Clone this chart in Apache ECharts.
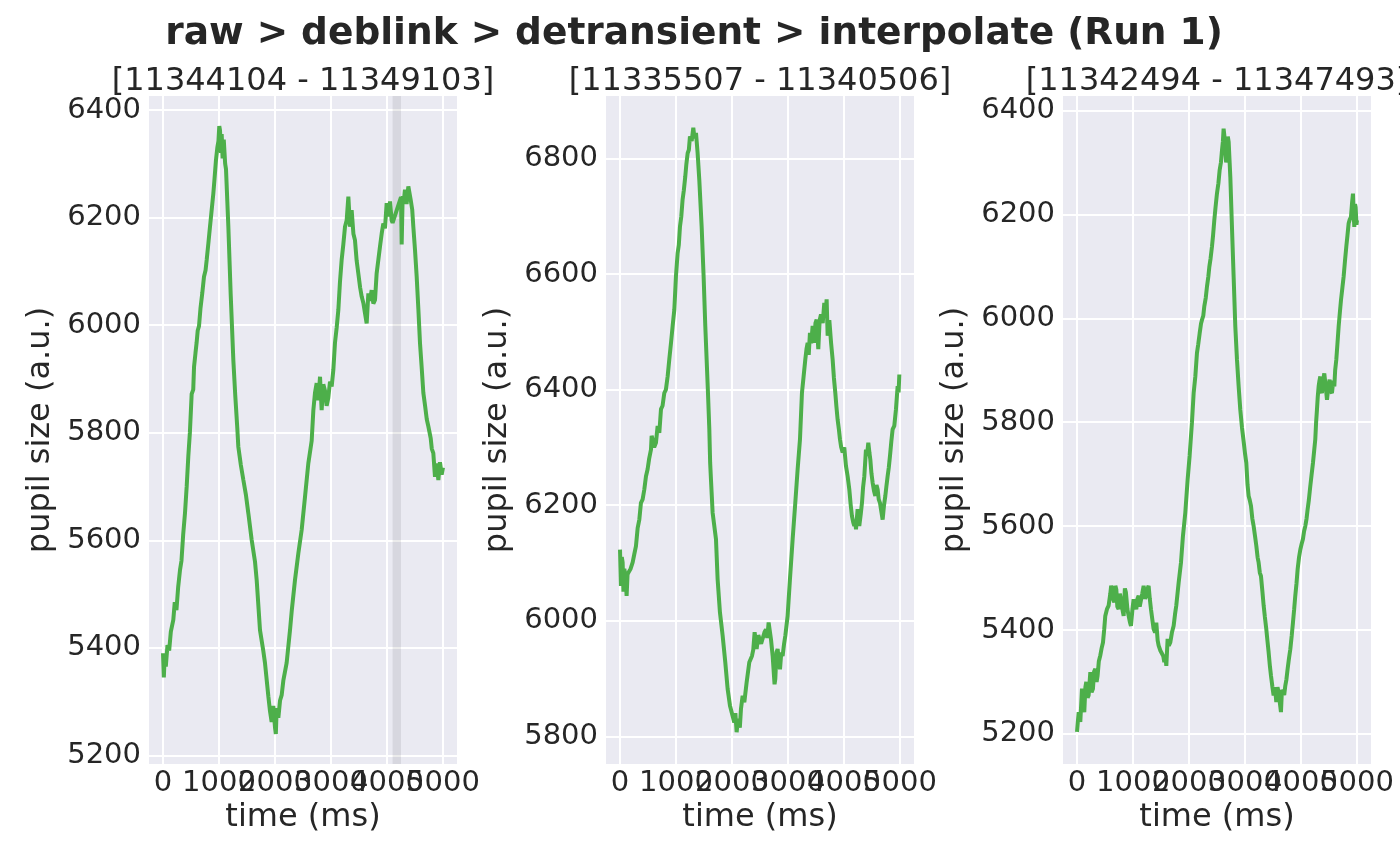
<!DOCTYPE html>
<html>
<head>
<meta charset="utf-8">
<title>pupil traces</title>
<script src="https://cdn.jsdelivr.net/npm/echarts@6/dist/echarts.min.js"></script>
<style>
 html,body{margin:0;padding:0;background:#fff}
 #chart{width:1400px;height:866px}
</style>
</head>
<body>
<div id="chart"></div>
<script>
// ---- data ----
var suptitle = 'raw > deblink > detransient > interpolate (Run 1)';
var panelTitles = ['[11344104 - 11349103]', '[11335507 - 11340506]', '[11342494 - 11347493]'];
var xTicks = [0, 1000, 2000, 3000, 4000, 5000];
var yTicks = [
 [5200, 5400, 5600, 5800, 6000, 6200, 6400],
 [5800, 6000, 6200, 6400, 6600, 6800],
 [5200, 5400, 5600, 5800, 6000, 6200, 6400]
];
var xRange = [-250, 5250];
var yRanges = [[5184, 6426], [5752, 6908], [5142, 6428]];
var gapBand = [4100, 4250];   // interpolated stretch, panel 1

var trace1 = [[0,5390],[15,5345],[30,5385],[50,5365],[80,5405],[110,5395],[140,5430],[184,5452],[210,5485],[240,5470],
 [270,5512],[304,5545],[330,5562],[360,5610],[393,5651],[423,5700],[452,5756],[480,5800],[512,5872],[540,5880],
 [554,5922],[580,5948],[601,5968],[620,5990],[643,5998],[670,6032],[702,6060],[732,6090],[760,6102],[780,6121],
 [810,6152],[839,6183],[870,6215],[899,6245],[920,6272],[946,6307],[970,6330],[990,6342],[1005,6370],[1018,6362],
 [1035,6320],[1048,6355],[1065,6310],[1085,6345],[1110,6300],[1125,6290],[1167,6183],[1208,6059],[1256,5935],[1290,5870],
 [1327,5808],[1345,5774],[1390,5740],[1435,5712],[1480,5685],[1524,5650],[1583,5601],[1643,5560],[1673,5526],[1732,5433],
 [1790,5395],[1821,5372],[1881,5310],[1911,5282],[1940,5262],[1970,5292],[2000,5252],[2015,5240],[2030,5288],[2060,5270],
 [2090,5302],[2119,5312],[2150,5340],[2208,5372],[2268,5433],[2300,5470],[2357,5526],[2417,5576],[2476,5619],[2536,5681],
 [2595,5743],[2655,5785],[2685,5842],[2714,5874],[2744,5892],[2774,5860],[2804,5904],[2833,5842],[2863,5890],[2893,5878],
 [2922,5850],[2952,5865],[2982,5895],[3012,5886],[3042,5917],[3071,5967],[3101,5995],[3131,6028],[3160,6080],[3190,6121],
 [3220,6150],[3250,6183],[3280,6195],[3310,6239],[3339,6183],[3369,6214],[3400,6170],[3428,6158],[3458,6120],[3488,6096],
 [3520,6070],[3548,6053],[3580,6040],[3607,6022],[3637,6003],[3667,6059],[3696,6045],[3726,6065],[3756,6040],[3786,6047],
 [3815,6096],[3845,6121],[3875,6146],[3905,6170],[3934,6189],[3964,6180],[3994,6227],[4024,6202],[4054,6230],[4083,6195],
 [4100,6190],[4250,6238],[4262,6150],[4280,6240],[4300,6230],[4321,6252],[4350,6225],[4381,6258],[4420,6235],[4450,6215],
 [4470,6183],[4500,6140],[4530,6090],[4560,6030],[4589,5967],[4620,5920],[4649,5874],[4680,5850],[4710,5825],[4738,5812],
 [4780,5790],[4800,5770],[4827,5762],[4857,5718],[4887,5743],[4917,5712],[4946,5745],[4976,5722],[5000,5735]];

var trace2 = [[0,6123],[17,6060],[32,6110],[47,6101],[62,6050],[77,6090],[100,6075],[118,6043],[135,6080],[154,6084],
 [190,6090],[226,6101],[255,6115],[285,6129],[315,6160],[345,6175],[374,6204],[404,6210],[434,6227],[464,6250],
 [493,6262],[520,6280],[553,6296],[565,6320],[583,6313],[610,6300],[642,6308],[672,6337],[702,6325],[732,6366],
 [760,6372],[791,6394],[820,6400],[851,6423],[880,6452],[910,6480],[940,6510],[970,6538],[999,6596],[1029,6636],
 [1050,6650],[1071,6682],[1095,6700],[1118,6729],[1140,6745],[1166,6769],[1185,6790],[1208,6809],[1230,6815],[1249,6838],
 [1280,6830],[1309,6853],[1330,6835],[1357,6844],[1386,6809],[1416,6763],[1458,6682],[1493,6596],[1523,6510],[1547,6452],
 [1571,6394],[1595,6331],[1610,6273],[1624,6245],[1654,6187],[1714,6141],[1743,6072],[1785,6014],[1833,5974],[1880,5928],
 [1922,5882],[1964,5853],[2011,5835],[2041,5824],[2060,5840],[2083,5807],[2100,5825],[2118,5830],[2140,5815],[2160,5847],
 [2190,5870],[2220,5859],[2261,5893],[2309,5928],[2357,5939],[2380,5950],[2404,5980],[2440,5951],[2470,5975],[2488,5974],
 [2520,5960],[2547,5962],[2580,5980],[2607,5985],[2630,5970],[2654,5997],[2696,5968],[2726,5939],[2760,5890],[2773,5899],
 [2795,5945],[2815,5951],[2840,5925],[2857,5916],[2880,5945],[2904,5939],[2930,5960],[2952,5974],[2993,6008],[3035,6072],
 [3083,6141],[3130,6204],[3172,6262],[3214,6314],[3249,6394],[3279,6423],[3309,6452],[3330,6470],[3351,6481],[3370,6460],
 [3392,6498],[3415,6480],[3440,6510],[3470,6481],[3490,6515],[3511,6521],[3541,6470],[3565,6520],[3589,6530],[3620,6515],
 [3648,6550],[3670,6530],[3690,6556],[3708,6493],[3738,6520],[3770,6480],[3797,6452],[3820,6420],[3845,6394],[3865,6370],
 [3886,6348],[3910,6330],[3928,6314],[3950,6300],[3976,6291],[4005,6300],[4035,6268],[4065,6250],[4095,6227],[4120,6200],
 [4142,6181],[4165,6170],[4184,6164],[4200,6175],[4214,6158],[4243,6193],[4273,6164],[4300,6185],[4321,6204],[4340,6230],
 [4363,6250],[4392,6296],[4410,6285],[4434,6308],[4455,6290],[4470,6279],[4490,6255],[4511,6239],[4535,6225],[4559,6216],
 [4580,6235],[4601,6227],[4620,6210],[4642,6204],[4665,6190],[4690,6175],[4715,6200],[4738,6216],[4760,6235],[4779,6250],
 [4800,6265],[4821,6285],[4845,6310],[4868,6331],[4898,6337],[4928,6366],[4958,6406],[4975,6395],[4988,6426]];

var trace3 = [[0,5204],[30,5242],[59,5223],[89,5287],[110,5250],[130,5242],[150,5290],[166,5300],[190,5270],[208,5274],
 [238,5319],[260,5280],[285,5287],[305,5320],[327,5325],[350,5300],[368,5312],[390,5340],[416,5351],[440,5365],
 [464,5376],[485,5400],[505,5427],[535,5440],[565,5447],[595,5470],[610,5485],[624,5480],[645,5460],[666,5453],
 [685,5485],[702,5478],[720,5445],[743,5440],[765,5470],[785,5459],[810,5440],[833,5427],[855,5480],[874,5472],
 [900,5440],[922,5427],[945,5415],[964,5408],[990,5440],[1011,5459],[1035,5450],[1059,5440],[1080,5460],[1101,5466],
 [1120,5445],[1142,5447],[1165,5470],[1190,5485],[1215,5460],[1238,5466],[1260,5480],[1279,5485],[1300,5460],[1321,5440],
 [1345,5420],[1368,5402],[1395,5395],[1416,5414],[1440,5380],[1458,5370],[1490,5360],[1517,5357],[1540,5350],[1559,5338],
 [1580,5350],[1595,5331],[1618,5383],[1640,5370],[1666,5376],[1695,5395],[1726,5408],[1750,5430],[1773,5447],[1815,5491],
 [1857,5530],[1892,5581],[1934,5626],[1976,5690],[2011,5735],[2053,5800],[2083,5856],[2113,5888],[2142,5933],[2165,5950],
 [2190,5971],[2215,5990],[2232,5997],[2255,6005],[2273,6023],[2300,6040],[2321,6061],[2345,6080],[2363,6099],[2385,6115],
 [2410,6138],[2430,6160],[2452,6189],[2475,6215],[2499,6240],[2525,6260],[2547,6285],[2570,6300],[2589,6323],[2605,6340],
 [2618,6365],[2633,6350],[2648,6349],[2663,6300],[2678,6317],[2693,6350],[2708,6340],[2738,6272],[2767,6176],[2797,6080],
 [2827,5984],[2857,5920],[2886,5870],[2916,5824],[2946,5790],[2976,5763],[3000,5740],[3023,5722],[3045,5680],[3065,5658],
 [3085,5650],[3107,5639],[3130,5615],[3154,5600],[3180,5580],[3202,5562],[3225,5540],[3243,5530],[3265,5510],[3285,5504],
 [3310,5475],[3333,5447],[3355,5425],[3380,5402],[3400,5380],[3422,5357],[3445,5330],[3464,5312],[3490,5290],[3511,5274],
 [3535,5290],[3559,5261],[3580,5290],[3601,5280],[3620,5262],[3642,5242],[3660,5285],[3678,5287],[3700,5275],[3720,5293],
 [3740,5305],[3761,5325],[3785,5345],[3809,5363],[3835,5390],[3857,5415],[3878,5440],[3898,5466],[3920,5490],[3940,5517],
 [3965,5540],[3988,5555],[4010,5565],[4035,5575],[4055,5590],[4077,5600],[4100,5615],[4118,5632],[4140,5650],[4166,5677],
 [4190,5700],[4214,5722],[4235,5745],[4255,5767],[4270,5800],[4285,5824],[4300,5850],[4315,5869],[4330,5880],[4345,5888],
 [4360,5860],[4374,5856],[4395,5880],[4416,5894],[4440,5870],[4464,5843],[4490,5870],[4511,5882],[4530,5860],[4553,5856],
 [4575,5880],[4595,5869],[4610,5900],[4630,5920],[4650,5950],[4672,5984],[4693,6010],[4714,6035],[4740,6060],[4761,6080],
 [4785,6110],[4809,6138],[4830,6160],[4851,6183],[4870,6190],[4892,6195],[4910,6220],[4928,6240],[4940,6200],[4952,6176],
 [4965,6220],[4976,6214],[4990,6180],[5000,6189]];

var traces = [trace1, trace2, trace3];

// ---- look (seaborn darkgrid-ish) ----
var INK = '#262626', PANEL = '#EAEAF2', GREEN = '#4daf4a';
var FONT = 'DejaVu Sans';
var gridLefts = [149, 606, 1063];
var GRID_TOP = 96, GRID_W = 308, GRID_H = 668;
var plain = function (v) { return String(v); };   // no thousands separator
// the tick labels overlap in the original (matplotlib keeps them all);
// empty labels at the axis ends stop echarts from dropping the end ones
var xLabelAt = [xRange[0]].concat(xTicks, [xRange[1]]);
var xLabel = function (v) { return xTicks.indexOf(v) >= 0 ? String(v) : ''; };

var grids = [], xAxes = [], yAxes = [], series = [], texts = [];

gridLefts.forEach(function (left, i) {
  grids.push({left: left, top: GRID_TOP, width: GRID_W, height: GRID_H,
    show: true, backgroundColor: PANEL, borderWidth: 0, containLabel: false, outerBoundsMode: 'none'});

  xAxes.push({type: 'value', gridIndex: i, min: xRange[0], max: xRange[1],
    name: 'time (ms)', nameLocation: 'middle', nameGap: 38, nameMoveOverlap: false,
    nameTextStyle: {fontFamily: FONT, fontSize: 32, color: INK},
    axisLine: {show: false},
    axisTick: {show: false, customValues: xTicks},
    axisLabel: {customValues: xLabelAt, formatter: xLabel, fontFamily: FONT, fontSize: 29, color: INK,
      margin: 5, hideOverlap: false},
    splitLine: {show: true, lineStyle: {color: '#fff', width: 2}}});

  yAxes.push({type: 'value', gridIndex: i, min: yRanges[i][0], max: yRanges[i][1],
    name: 'pupil size (a.u.)', nameLocation: 'middle', nameGap: 92, nameMoveOverlap: false,
    nameTextStyle: {fontFamily: FONT, fontSize: 32, color: INK},
    axisLine: {show: false},
    axisTick: {show: false, customValues: yTicks[i]},
    axisLabel: {customValues: yTicks[i], formatter: plain, fontFamily: FONT, fontSize: 29, color: INK,
      margin: 8, hideOverlap: false, showMinLabel: true, showMaxLabel: true},
    splitLine: {show: true, lineStyle: {color: '#fff', width: 2}}});

  var s = {type: 'line', xAxisIndex: i, yAxisIndex: i, data: traces[i],
    showSymbol: false, symbol: 'none', smooth: false,
    lineStyle: {color: GREEN, width: 4}, itemStyle: {color: GREEN},
    clip: true, silent: true};
  if (i === 0) {
    s.markArea = {silent: true, itemStyle: {color: 'rgba(0,0,0,0.08)'},
      data: [[{xAxis: gapBand[0]}, {xAxis: gapBand[1]}]]};
  }
  series.push(s);

  texts.push({type: 'text', x: left + GRID_W / 2, y: 82,
    style: {text: panelTitles[i], fill: INK, font: '32px "' + FONT + '"',
      textAlign: 'center', textVerticalAlign: 'middle'}});
});

texts.push({type: 'text', x: 694, y: 34,
  style: {text: suptitle, fill: INK, font: 'bold 37.5px "' + FONT + '"',
    textAlign: 'center', textVerticalAlign: 'middle'}});

var chart = echarts.init(document.getElementById('chart'), null, {renderer: 'canvas'});
chart.setOption({
  animation: false,
  backgroundColor: '#fff',
  textStyle: {fontFamily: FONT},
  grid: grids, xAxis: xAxes, yAxis: yAxes, series: series,
  graphic: texts
});
</script>
</body>
</html>
